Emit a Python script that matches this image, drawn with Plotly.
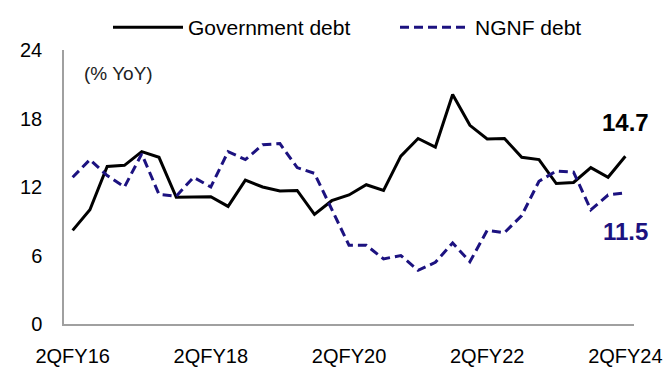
import plotly.graph_objects as go

# ---- data ----
quarters = []
q, fy = 2, 16
for _ in range(33):
    quarters.append(f"{q}QFY{fy}")
    q += 1
    if q > 4:
        q, fy = 1, fy + 1

gov_debt = [8.2, 10.0, 13.8, 13.9, 15.1, 14.6, 11.1, 11.15, 11.15, 10.3, 12.6, 12.0,
            11.65, 11.7, 9.6, 10.8, 11.3, 12.2, 11.7, 14.7, 16.25, 15.5, 20.1, 17.4,
            16.2, 16.25, 14.6, 14.4, 12.3, 12.4, 13.7, 12.85, 14.7]
ngnf_debt = [12.85, 14.4, 13.0, 12.0, 14.9, 11.35, 11.2, 12.85, 12.0, 15.1, 14.4, 15.7,
             15.8, 13.7, 13.2, 10.0, 6.9, 6.9, 5.7, 6.0, 4.7, 5.4, 7.1, 5.45,
             8.2, 8.0, 9.5, 12.5, 13.4, 13.3, 10.0, 11.3, 11.5]
x_ticks = ["2QFY16", "2QFY18", "2QFY20", "2QFY22", "2QFY24"]
y_ticks = [0, 6, 12, 18, 24]

NAVY = "#1C1280"
FONT = "Liberation Sans, Arial, sans-serif"

fig = go.Figure()
fig.add_trace(go.Scatter(x=quarters, y=gov_debt, mode="lines", name="Government debt",
                         line=dict(color="black", width=3), legend="legend"))
fig.add_trace(go.Scatter(x=quarters, y=ngnf_debt, mode="lines", name="NGNF debt",
                         line=dict(color=NAVY, width=3, dash="9px,5px"), legend="legend2"))

fig.add_annotation(x=quarters[-1], y=gov_debt[-1], text=f"<b>{gov_debt[-1]}</b>",
                   showarrow=False, yshift=34, font=dict(size=24, color="black", family=FONT))
fig.add_annotation(x=quarters[-1], y=ngnf_debt[-1], text=f"<b>{ngnf_debt[-1]}</b>",
                   showarrow=False, yshift=-39, font=dict(size=24, color=NAVY, family=FONT))
fig.add_annotation(xref="paper", yref="paper", x=0.031, y=0.916, xanchor="left",
                   yanchor="middle", text="(% YoY)", showarrow=False,
                   font=dict(size=19, color="#222", family=FONT))

leg_common = dict(orientation="h", xref="container", yref="container",
                  xanchor="left", y=1 - 7 / 367, yanchor="top",
                  itemwidth=70, font=dict(size=21), bgcolor="rgba(0,0,0,0)")

fig.update_layout(
    width=665, height=367,
    margin=dict(l=64, r=31, t=50, b=43, autoexpand=False),
    paper_bgcolor="white", plot_bgcolor="white",
    font=dict(family=FONT, size=20, color="black"),
    showlegend=True,
    legend=dict(x=108 / 665, **leg_common),
    legend2=dict(x=395 / 665, **leg_common),
    xaxis=dict(type="category", range=[-0.5, 32.5], tickmode="array",
               tickvals=x_ticks, ticktext=x_ticks, showgrid=False,
               showline=True, linecolor="#a0a0a0", linewidth=1.5, ticks="",
               ticklabelstandoff=13, zeroline=False, fixedrange=True),
    yaxis=dict(range=[0, 24], tickvals=y_ticks, showgrid=False, showline=True,
               linecolor="#a0a0a0", linewidth=1.5, ticks="", ticklabelstandoff=16,
               zeroline=False),
)

fig.write_html("out.html")
